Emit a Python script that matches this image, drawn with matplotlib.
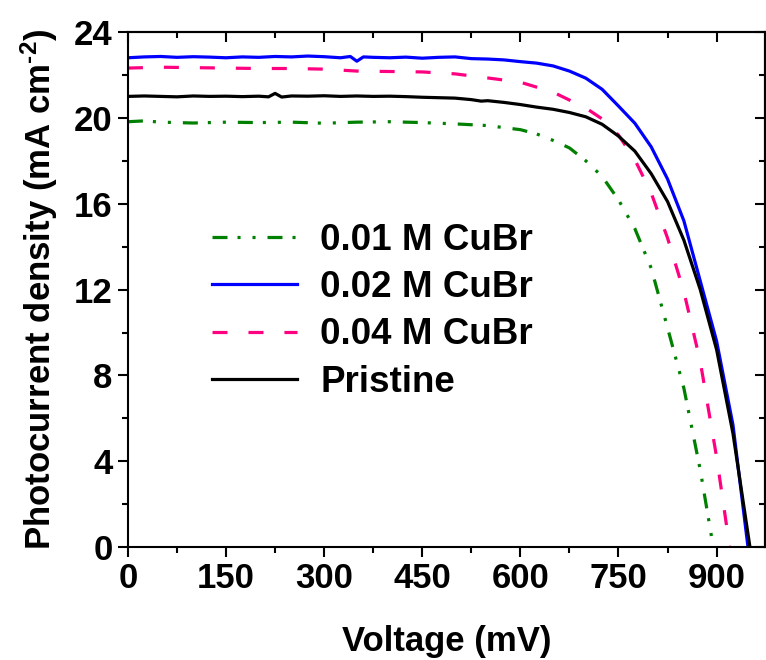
import matplotlib
matplotlib.use("Agg")
import matplotlib.pyplot as plt
from matplotlib.ticker import MultipleLocator

plt.rcParams['font.family'] = ['Liberation Sans', 'DejaVu Sans']
plt.rcParams['font.weight'] = 'bold'
plt.rcParams['mathtext.fontset'] = 'custom'
plt.rcParams['mathtext.bf'] = 'Liberation Sans:bold'
plt.rcParams['mathtext.rm'] = 'Liberation Sans:bold'
plt.rcParams['mathtext.default'] = 'bf'
plt.rcParams['lines.scale_dashes'] = False

# J-V curves (voltage in mV, current density in mA cm^-2)
v_001 = [0, 25, 50, 100, 150, 200, 250, 300, 350, 400, 450, 500, 550, 600,
         625, 650, 675, 700, 725, 750, 775, 800, 825, 850, 875, 893]
j_001 = [19.82, 19.86, 19.80, 19.76, 19.80, 19.78, 19.80, 19.75, 19.80, 19.82,
         19.78, 19.72, 19.64, 19.45, 19.25, 18.95, 18.60, 18.00, 17.27, 16.18,
         14.84, 13.00, 10.22, 7.40, 3.60, 0.35]

v_002 = [0, 25, 50, 75, 100, 125, 150, 175, 200, 225, 250, 275, 300, 325, 340,
         350, 360, 375, 400, 425, 450, 475, 500, 525, 550, 575, 600, 625, 650,
         675, 700, 725, 750, 775, 800, 825, 850, 875, 900, 925, 948]
j_002 = [22.80, 22.84, 22.86, 22.82, 22.85, 22.83, 22.80, 22.84, 22.82, 22.86,
         22.84, 22.88, 22.85, 22.80, 22.86, 22.64, 22.84, 22.82, 22.80, 22.83,
         22.78, 22.82, 22.84, 22.76, 22.74, 22.70, 22.62, 22.55, 22.42, 22.18,
         21.85, 21.33, 20.55, 19.75, 18.65, 17.15, 15.20, 12.40, 9.60, 5.70, 0.0]

v_004 = [0, 50, 100, 150, 200, 250, 300, 350, 400, 450, 500, 550, 600, 650,
         700, 725, 750, 775, 800, 825, 850, 875, 900, 920]
j_004 = [22.32, 22.36, 22.34, 22.32, 22.30, 22.30, 22.27, 22.18, 22.16, 22.14,
         22.05, 21.86, 21.66, 21.20, 20.46, 19.95, 19.20, 18.05, 16.50, 14.40,
         11.90, 8.65, 4.20, 0.0]

v_pris = [0, 25, 50, 75, 100, 125, 150, 175, 200, 215, 225, 235, 250, 275,
          300, 325, 350, 375, 400, 425, 450, 475, 500, 525, 540, 550, 575, 600,
          625, 650, 675, 700, 725, 750, 775, 800, 825, 850, 875, 900, 925, 951]
j_pris = [21.00, 21.02, 21.00, 20.98, 21.02, 21.00, 21.01, 20.99, 21.01, 20.98,
          21.14, 20.97, 21.02, 21.01, 21.03, 21.00, 21.02, 21.00, 21.01, 20.99,
          20.96, 20.94, 20.92, 20.85, 20.78, 20.80, 20.72, 20.62, 20.50, 20.40,
          20.25, 20.05, 19.70, 19.15, 18.45, 17.40, 16.10, 14.30, 12.00, 9.20,
          5.30, 0.0]

fig = plt.figure(figsize=(7.66, 6.6), dpi=100)
ax = fig.add_axes([0.167, 0.171, 0.8317, 0.7805])

ax.plot(v_001, j_001, color='#008000', lw=2.3,
        dashes=(10.8, 7.2, 2.2, 8.6, 2.2, 8.6), label='0.01 M CuBr')
ax.plot(v_002, j_002, color='#0000FF', lw=2.3, label='0.02 M CuBr')
ax.plot(v_004, j_004, color='#FF0080', lw=2.3, dashes=(10.8, 15.1),
        label='0.04 M CuBr')
ax.plot(v_pris, j_pris, color='black', lw=2.3, label='Pristine')

ax.set_xlim(0, 974)
ax.set_ylim(0, 24)
ax.xaxis.set_major_locator(MultipleLocator(150))
ax.xaxis.set_minor_locator(MultipleLocator(75))
ax.yaxis.set_major_locator(MultipleLocator(4))
ax.yaxis.set_minor_locator(MultipleLocator(2))

for s in ax.spines.values():
    s.set_linewidth(1.5)
ax.tick_params(which='major', direction='out', length=7, width=1.5,
               labelsize=25, pad=4)
ax.tick_params(which='minor', direction='out', length=4, width=1.5)

# mirrored ticks on top and right, pointing inwards
top = ax.secondary_xaxis('top')
top.xaxis.set_major_locator(MultipleLocator(150))
top.xaxis.set_minor_locator(MultipleLocator(75))
top.tick_params(which='major', direction='in', length=7, width=1.5,
                labeltop=False)
top.tick_params(which='minor', direction='in', length=4, width=1.5)
right = ax.secondary_yaxis('right')
right.yaxis.set_major_locator(MultipleLocator(4))
right.yaxis.set_minor_locator(MultipleLocator(2))
right.tick_params(which='major', direction='in', length=7, width=1.5,
                  labelright=False)
right.tick_params(which='minor', direction='in', length=4, width=1.5)
for sec in (top, right):
    for s in sec.spines.values():
        s.set_linewidth(1.5)

ax.set_xlabel('Voltage (mV)', fontsize=25, fontweight='bold', labelpad=21)
ax.set_ylabel(r'Photocurrent density (mA cm$^{\text{-2}}$)', fontsize=25,
              fontweight='bold', labelpad=10)

ax.legend(loc='upper left', bbox_to_anchor=(0.132, 0.629), frameon=False,
          prop={'weight': 'bold', 'size': 26.5}, handlelength=2.31,
          handletextpad=0.63, labelspacing=0.33, borderpad=0,
          borderaxespad=0)

fig.savefig('out.png', dpi=100)
